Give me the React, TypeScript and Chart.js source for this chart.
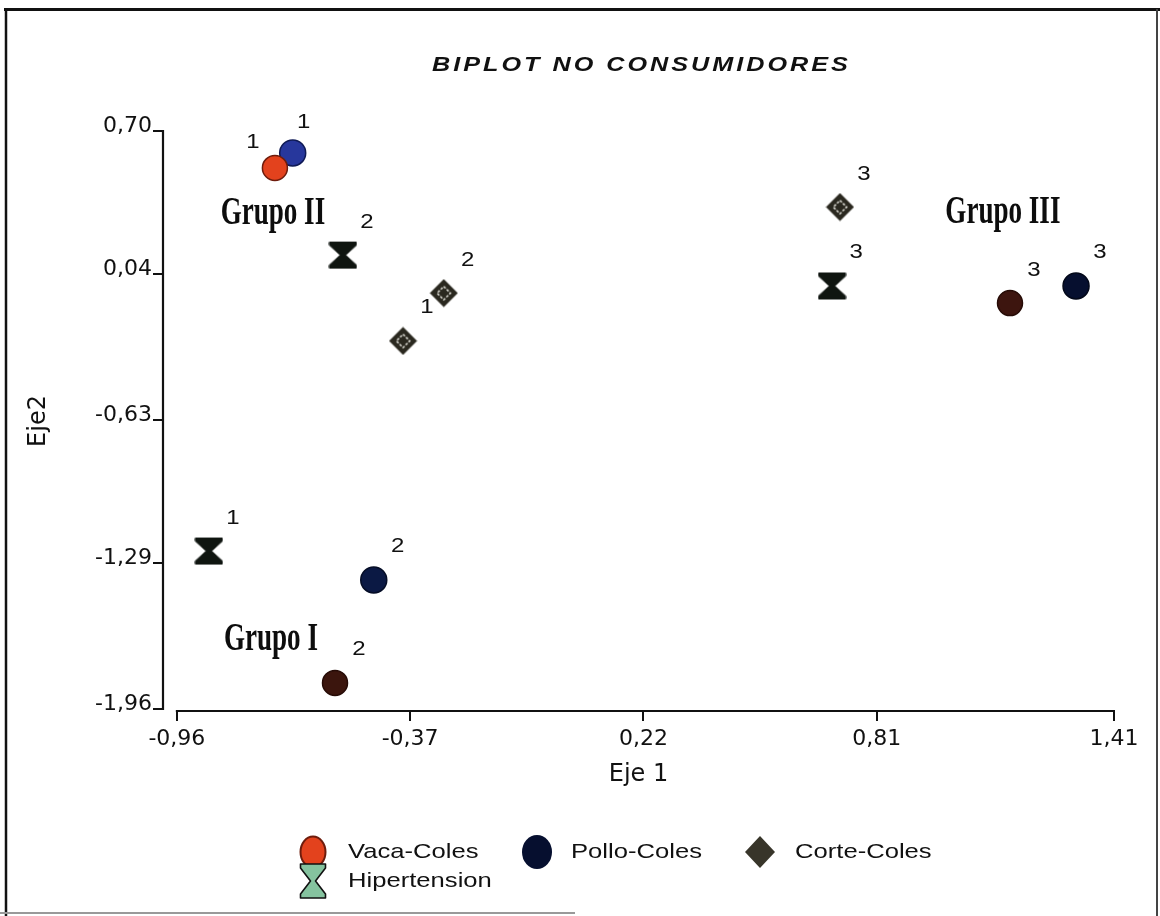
import React, { useEffect, useRef } from 'react';
import { Chart, registerables } from 'chart.js';

Chart.register(...registerables);

// ---------- data ----------
const TITLE = 'BIPLOT NO CONSUMIDORES';
const X_AXIS_TITLE = 'Eje 1';
const Y_AXIS_TITLE = 'Eje2';

const X_TICKS = [-0.96, -0.37, 0.22, 0.81, 1.41];
const X_TICK_LABELS = ['-0,96', '-0,37', '0,22', '0,81', '1,41'];
const Y_TICKS = [-1.96, -1.29, -0.63, 0.04, 0.7];
const Y_TICK_LABELS = ['-1,96', '-1,29', '-0,63', '0,04', '0,70'];

const SERIES_NAMES = ['Vaca-Coles', 'Pollo-Coles', 'Corte-Coles', 'Hipertension'];
const VACA_X = [-0.712, -0.56, 1.147];
const VACA_Y = [0.53, -1.84, -0.092];
const POLLO_X = [-0.667, -0.462, 1.314];
const POLLO_Y = [0.599, -1.366, -0.013];
const CORTE_X = [-0.388, -0.285, 0.717];
const CORTE_Y = [-0.266, -0.046, 0.35];
const HIPER_X = [-0.879, -0.54, 0.697];
const HIPER_Y = [-1.233, 0.129, -0.013];
const POINT_LABELS = ['1', '2', '3'];

const GROUP_NAMES = ['Grupo II', 'Grupo III', 'Grupo I'];
const GROUP_X = [-0.717, 1.129, -0.722];
const GROUP_Y = [0.336, 0.341, -1.624];

// ---------- styles ----------
const VACA_FILL = ['#e3421d', '#3b150d', '#3d150f'];
const VACA_BORDER = ['#6e1c0c', '#260b06', '#260b06'];
const POLLO_FILL = ['#27379c', '#0b1944', '#060f2f'];
const POLLO_BORDER = ['#0f1a55', '#050d26', '#030819'];
const DIAMOND_FILL = '#2a281f';
const HOURGLASS_FILL = '#0f1510';
const LEGEND_HOURGLASS_FILL = '#85c39f';

function toPoints(xs: number[], ys: number[]) {
  return xs.map((x, i) => ({ x, y: ys[i] }));
}

function makeDiamond(size: number, fill: string) {
  const c = document.createElement('canvas');
  c.width = size;
  c.height = size;
  const g = c.getContext('2d')!;
  const h = size / 2;
  g.fillStyle = fill;
  g.beginPath();
  g.moveTo(h, 0.5);
  g.lineTo(size - 0.5, h);
  g.lineTo(h, size - 0.5);
  g.lineTo(0.5, h);
  g.closePath();
  g.fill();
  const r = h * 0.46;
  g.strokeStyle = '#e6e5de';
  g.lineWidth = 1.5;
  g.setLineDash([2.6, 1.6]);
  g.beginPath();
  g.moveTo(h, h - r);
  g.lineTo(h + r, h);
  g.lineTo(h, h + r);
  g.lineTo(h - r, h);
  g.closePath();
  g.stroke();
  return c;
}

function hourglassPath(g: CanvasRenderingContext2D, cx: number, cy: number, w: number, hgt: number) {
  const l = cx - w / 2, r = cx + w / 2, t = cy - hgt / 2, b = cy + hgt / 2;
  const bar = hgt * 0.12;
  const waist = w * 0.1;
  g.beginPath();
  g.moveTo(l, t);
  g.lineTo(r, t);
  g.lineTo(r, t + bar);
  g.lineTo(cx + waist, cy);
  g.lineTo(r, b - bar);
  g.lineTo(r, b);
  g.lineTo(l, b);
  g.lineTo(l, b - bar);
  g.lineTo(cx - waist, cy);
  g.lineTo(l, t + bar);
  g.closePath();
}

function makeHourglass(size: number, fill: string) {
  const c = document.createElement('canvas');
  c.width = size;
  c.height = size;
  const g = c.getContext('2d')!;
  g.fillStyle = fill;
  g.lineJoin = 'round';
  hourglassPath(g, size / 2, size / 2, size - 2, size - 3);
  g.fill();
  g.strokeStyle = fill;
  g.lineWidth = 1;
  g.stroke();
  return c;
}

function drawText(
  ctx: CanvasRenderingContext2D,
  text: string,
  x: number,
  y: number,
  font: string,
  color: string,
  opts: { sx?: number; align?: 'left' | 'center' | 'right'; baseline?: CanvasTextBaseline; spacing?: number } = {}
) {
  const sx = opts.sx ?? 1;
  const spacing = opts.spacing ?? 0;
  ctx.save();
  ctx.font = font;
  ctx.fillStyle = color;
  ctx.textAlign = 'left';
  ctx.textBaseline = opts.baseline ?? 'middle';
  const chars = Array.from(text);
  let w = 0;
  if (spacing) {
    chars.forEach((ch) => (w += ctx.measureText(ch).width + spacing));
    w -= spacing;
  } else {
    w = ctx.measureText(text).width;
  }
  const total = w * sx;
  const align = opts.align ?? 'left';
  const startX = align === 'center' ? x - total / 2 : align === 'right' ? x - total : x;
  ctx.translate(startX, y);
  ctx.scale(sx, 1);
  if (spacing) {
    let cx = 0;
    chars.forEach((ch) => {
      ctx.fillText(ch, cx, 0);
      cx += ctx.measureText(ch).width + spacing;
    });
  } else {
    ctx.fillText(text, 0, 0);
  }
  ctx.restore();
}

const SANS = '"Liberation Sans", Arial, sans-serif';
const TICK_FONT = 'DejaVu Sans';

const decorPlugin = {
  id: 'decor',
  beforeDraw(chart: any) {
    const ctx = chart.ctx as CanvasRenderingContext2D;
    ctx.save();
    ctx.fillStyle = '#ffffff';
    ctx.fillRect(0, 0, chart.width, chart.height);
    ctx.restore();
  },
  beforeDatasetsDraw(chart: any) {
    const ctx = chart.ctx as CanvasRenderingContext2D;
    const xs = chart.scales.x;
    const ys = chart.scales.y;
    const area = chart.chartArea;
    ctx.save();
    ctx.strokeStyle = '#111';
    ctx.lineWidth = 2.2;
    ctx.beginPath();
    ctx.moveTo(xs.getPixelForValue(X_TICKS[0]) - 1, area.bottom);
    ctx.lineTo(xs.getPixelForValue(X_TICKS[X_TICKS.length - 1]) + 1, area.bottom);
    ctx.moveTo(area.left, ys.getPixelForValue(Y_TICKS[Y_TICKS.length - 1]) - 1);
    ctx.lineTo(area.left, ys.getPixelForValue(Y_TICKS[0]) + 1);
    ctx.stroke();
    ctx.restore();
  },
  afterDatasetsDraw(chart: any) {
    const ctx = chart.ctx as CanvasRenderingContext2D;
    const xs = chart.scales.x;
    const ys = chart.scales.y;
    // point labels
    const defaultOffset = [24, -33];
    const special: Record<string, number[]> = { '0-0': [-22, -25], '1-0': [11, -30] };
    chart.data.datasets.forEach((_ds: any, di: number) => {
      const meta = chart.getDatasetMeta(di);
      meta.data.forEach((el: any, pi: number) => {
        const off = special[`${di}-${pi}`] || defaultOffset;
        drawText(ctx, POINT_LABELS[pi], el.x + off[0], el.y + off[1], `20px ${SANS}`, '#111', {
          sx: 1.2,
          align: 'center',
          baseline: 'middle',
        });
      });
    });
    // group labels
    GROUP_NAMES.forEach((name, i) => {
      const px = xs.getPixelForValue(GROUP_X[i]);
      const py = ys.getPixelForValue(GROUP_Y[i]);
      drawText(ctx, name, px, py + 14, 'bold 41px "Liberation Serif", "Times New Roman", serif', '#0d0d0d', {
        sx: 0.66,
        align: 'center',
        baseline: 'alphabetic',
      });
    });
  },
  afterDraw(chart: any) {
    const ctx = chart.ctx as CanvasRenderingContext2D;
    // title
    drawText(ctx, TITLE, 640, 65, `italic bold 21px ${SANS}`, '#111', {
      sx: 1.2,
      align: 'center',
      baseline: 'middle',
      spacing: 2.5,
    });
    // legend
    const items = [
      { ds: 0, mx: 313, tx: 348, y: 852 },
      { ds: 1, mx: 537, tx: 571, y: 852 },
      { ds: 2, mx: 760, tx: 795, y: 852 },
      { ds: 3, mx: 313, tx: 348, y: 881 },
    ];
    items.forEach((it) => {
      ctx.save();
      if (it.ds === 0) {
        ctx.fillStyle = VACA_FILL[0];
        ctx.strokeStyle = VACA_BORDER[0];
        ctx.lineWidth = 2;
        ctx.beginPath();
        ctx.ellipse(it.mx, it.y, 12.5, 15.5, 0, 0, Math.PI * 2);
        ctx.fill();
        ctx.stroke();
      } else if (it.ds === 1) {
        ctx.fillStyle = POLLO_FILL[2];
        ctx.beginPath();
        ctx.ellipse(it.mx, it.y, 15, 17, 0, 0, Math.PI * 2);
        ctx.fill();
      } else if (it.ds === 2) {
        ctx.fillStyle = '#38352a';
        ctx.beginPath();
        ctx.moveTo(it.mx, it.y - 16);
        ctx.lineTo(it.mx + 15, it.y);
        ctx.lineTo(it.mx, it.y + 16);
        ctx.lineTo(it.mx - 15, it.y);
        ctx.closePath();
        ctx.fill();
      } else {
        ctx.fillStyle = LEGEND_HOURGLASS_FILL;
        ctx.strokeStyle = '#111';
        ctx.lineWidth = 1.6;
        ctx.lineJoin = 'round';
        hourglassPath(ctx, it.mx, it.y, 25, 34);
        ctx.fill();
        ctx.stroke();
      }
      ctx.restore();
      drawText(ctx, chart.data.datasets[it.ds].label, it.tx, it.y, `21px ${SANS}`, '#111', {
        sx: 1.22,
        baseline: 'middle',
      });
    });
    // outer frame
    ctx.save();
    ctx.strokeStyle = '#111';
    ctx.lineWidth = 3;
    ctx.beginPath();
    ctx.moveTo(4, 9.5);
    ctx.lineTo(1160, 9.5);
    ctx.stroke();
    ctx.lineWidth = 2.5;
    ctx.beginPath();
    ctx.moveTo(6, 8);
    ctx.lineTo(6, 916);
    ctx.stroke();
    ctx.strokeStyle = '#444';
    ctx.lineWidth = 2;
    ctx.beginPath();
    ctx.moveTo(1157, 9);
    ctx.lineTo(1157, 916);
    ctx.stroke();
    ctx.strokeStyle = '#999';
    ctx.beginPath();
    ctx.moveTo(0, 913);
    ctx.lineTo(575, 913);
    ctx.stroke();
    ctx.restore();
  },
};

export default function App() {
  const ref = useRef<HTMLCanvasElement>(null);

  useEffect(() => {
    const canvas = ref.current;
    if (!canvas) return;
    const diamond = makeDiamond(29, DIAMOND_FILL);
    const hourglass = makeHourglass(29, HOURGLASS_FILL);

    const tickGrid = {
      display: true,
      drawOnChartArea: false,
      drawTicks: true,
      tickLength: 10,
      lineWidth: 2,
      color: '#111',
    };

    const chart = new Chart(canvas, {
      type: 'scatter',
      data: {
        datasets: [
          {
            label: SERIES_NAMES[0],
            data: toPoints(VACA_X, VACA_Y),
            pointStyle: 'circle',
            pointRadius: 12.5,
            pointBorderWidth: 1.5,
            backgroundColor: VACA_FILL,
            borderColor: VACA_BORDER,
          },
          {
            label: SERIES_NAMES[1],
            data: toPoints(POLLO_X, POLLO_Y),
            pointStyle: 'circle',
            pointRadius: 13,
            pointBorderWidth: 1.5,
            backgroundColor: POLLO_FILL,
            borderColor: POLLO_BORDER,
          },
          {
            label: SERIES_NAMES[2],
            data: toPoints(CORTE_X, CORTE_Y),
            pointStyle: diamond,
            pointRadius: 14,
            backgroundColor: DIAMOND_FILL,
          },
          {
            label: SERIES_NAMES[3],
            data: toPoints(HIPER_X, HIPER_Y),
            pointStyle: hourglass,
            pointRadius: 14,
            backgroundColor: HOURGLASS_FILL,
          },
        ],
      },
      options: {
        responsive: false,
        animation: false,
        devicePixelRatio: 1,
        events: [],
        layout: { padding: { top: 131, right: 46, left: 0, bottom: 0 } },
        plugins: {
          legend: { display: false },
          title: { display: false },
          tooltip: { enabled: false },
        },
        scales: {
          x: {
            type: 'linear',
            position: 'bottom',
            bounds: 'data',
            min: X_TICKS[0] - 0.035,
            max: X_TICKS[X_TICKS.length - 1],
            afterBuildTicks: (s: any) => {
              s.ticks = X_TICKS.map((v) => ({ value: v }));
            },
            afterFit: (s: any) => {
              s.height = 205;
            },
            grid: tickGrid,
            border: { display: false },
            ticks: {
              autoSkip: false,
              maxRotation: 0,
              padding: 5,
              color: '#111',
              font: { family: TICK_FONT, size: 22 },
              callback: (_v: any, i: number) => X_TICK_LABELS[i],
            },
            title: {
              display: true,
              text: X_AXIS_TITLE,
              color: '#111',
              font: { family: TICK_FONT, size: 24 },
              padding: { top: 0, bottom: 127 },
            },
          },
          y: {
            type: 'linear',
            position: 'left',
            bounds: 'data',
            min: Y_TICKS[0] - 0.009,
            max: Y_TICKS[Y_TICKS.length - 1],
            afterBuildTicks: (s: any) => {
              s.ticks = Y_TICKS.map((v) => ({ value: v }));
            },
            afterFit: (s: any) => {
              s.width = 163;
            },
            grid: tickGrid,
            border: { display: false },
            ticks: {
              autoSkip: false,
              padding: 1,
              labelOffset: -5,
              color: '#111',
              font: { family: TICK_FONT, size: 22 },
              callback: (_v: any, i: number) => Y_TICK_LABELS[i],
            },
            title: {
              display: true,
              text: Y_AXIS_TITLE,
              color: '#111',
              font: { family: TICK_FONT, size: 24 },
              padding: { top: 24, bottom: 0 },
            },
          },
        },
      },
      plugins: [decorPlugin],
    } as any);

    return () => chart.destroy();
  }, []);

  return (
    <div style={{ position: 'absolute', left: 0, top: 0, width: 1160, height: 916, background: '#fff' }}>
      <canvas ref={ref} width={1160} height={916} style={{ display: 'block', width: 1160, height: 916 }} />
    </div>
  );
}
